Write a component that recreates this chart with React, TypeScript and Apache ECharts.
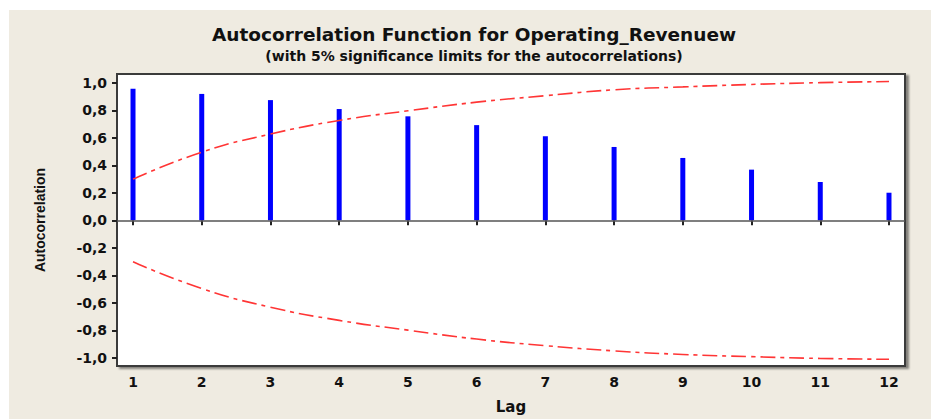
import React, { useEffect, useRef } from "react";
import * as echarts from "echarts";

const lags = [1, 2, 3, 4, 5, 6, 7, 8, 9, 10, 11, 12];
const acfValues = [0.957, 0.92, 0.875, 0.81, 0.757, 0.693, 0.612, 0.534, 0.454, 0.369, 0.279, 0.201];
const upperLimit = [0.3, 0.496, 0.628, 0.727, 0.797, 0.86, 0.907, 0.95, 0.971, 0.989, 1.002, 1.01];
const lowerLimit = [-0.302, -0.496, -0.632, -0.728, -0.799, -0.864, -0.912, -0.95, -0.976, -0.992, -1.005, -1.011];
const yTicks = [-1.0, -0.8, -0.6, -0.4, -0.2, 0.0, 0.2, 0.4, 0.6, 0.8, 1.0];

const titleText = "Autocorrelation Function for Operating_Revenuew";
const subtitleText = "(with 5% significance limits for the autocorrelations)";

const fmt = (v: number) => v.toFixed(1).replace(".", ",");

export default function App() {
  const ref = useRef<HTMLDivElement>(null);
  useEffect(() => {
    if (!ref.current) return;
    const chart = echarts.init(ref.current, undefined, { renderer: "svg" });
    const font = "'DejaVu Sans', Verdana, sans-serif";
    chart.setOption({
      animation: false,
      backgroundColor: "#efebe1",
      title: [
        {
          text: titleText,
          left: "center",
          top: 10,
          textStyle: { fontFamily: font, fontWeight: "bold", fontSize: 18.5, color: "#111" },
        },
        {
          text: subtitleText,
          left: "center",
          top: 34,
          textStyle: { fontFamily: font, fontWeight: "bold", fontSize: 14, color: "#111" },
        },
      ],
      grid: {
        left: 108,
        top: 64,
        width: 788,
        height: 299,
        show: true,
        backgroundColor: "#ffffff",
        borderColor: "#3a3a3a",
        borderWidth: 2,
        shadowColor: "rgba(0,0,0,0.45)",
        shadowBlur: 2,
        shadowOffsetX: 3,
        shadowOffsetY: 2,
      },
      xAxis: {
        type: "value",
        min: 0.767,
        max: 12.233,
        name: "Lag",
        nameLocation: "middle",
        nameGap: 33,
        nameTextStyle: { fontFamily: font, fontWeight: "bold", fontSize: 15, color: "#111" },
        axisLine: { show: false },
        splitLine: { show: false },
        axisTick: {
          show: true,
          customValues: lags,
          length: 5,
          lineStyle: { color: "#222", width: 2 },
        },
        axisLabel: {
          customValues: lags,
          margin: 9,
          fontFamily: font,
          fontWeight: "bold",
          fontSize: 14,
          color: "#111",
          formatter: (v: number) => String(v),
        },
      },
      yAxis: {
        type: "value",
        min: -1.06,
        max: 1.065,
        name: "Autocorrelation",
        nameLocation: "middle",
        nameGap: 70,
        nameRotate: 90,
        nameTextStyle: {
          fontFamily: "'Liberation Sans Narrow', 'Arial Narrow', 'Liberation Sans', sans-serif",
          fontWeight: "bold",
          fontSize: 14,
          color: "#111",
        },
        axisLine: { show: false },
        splitLine: { show: false },
        axisTick: {
          show: true,
          customValues: yTicks,
          length: 5,
          lineStyle: { color: "#222", width: 2 },
        },
        axisLabel: {
          customValues: yTicks,
          margin: 10,
          fontFamily: font,
          fontWeight: "bold",
          fontSize: 14,
          color: "#111",
          formatter: (v: number) => fmt(v),
        },
      },
      series: [
        {
          type: "bar",
          data: lags.map((l, i) => [l, acfValues[i]]),
          barWidth: 5,
          itemStyle: { color: "#0000ff" },
          markLine: {
            silent: true,
            symbol: "none",
            label: { show: false },
            lineStyle: { color: "#555", width: 1.5, type: "solid" },
            data: [{ yAxis: 0 }],
          },
          z: 3,
        },
        {
          type: "line",
          data: lags.map((l, i) => [l, upperLimit[i]]),
          smooth: true,
          symbol: "none",
          lineStyle: { color: "#ff3535", width: 1.6, type: [15, 5, 4, 5] },
          z: 4,
        },
        {
          type: "line",
          data: lags.map((l, i) => [l, lowerLimit[i]]),
          smooth: true,
          symbol: "none",
          lineStyle: { color: "#ff3535", width: 1.6, type: [15, 5, 4, 5] },
          z: 4,
        },
      ],
    });
    return () => chart.dispose();
  }, []);
  return (
    <div style={{ paddingLeft: 1, paddingTop: 2 }}>
      <div ref={ref} style={{ width: 930, height: 409 }} />
    </div>
  );
}
